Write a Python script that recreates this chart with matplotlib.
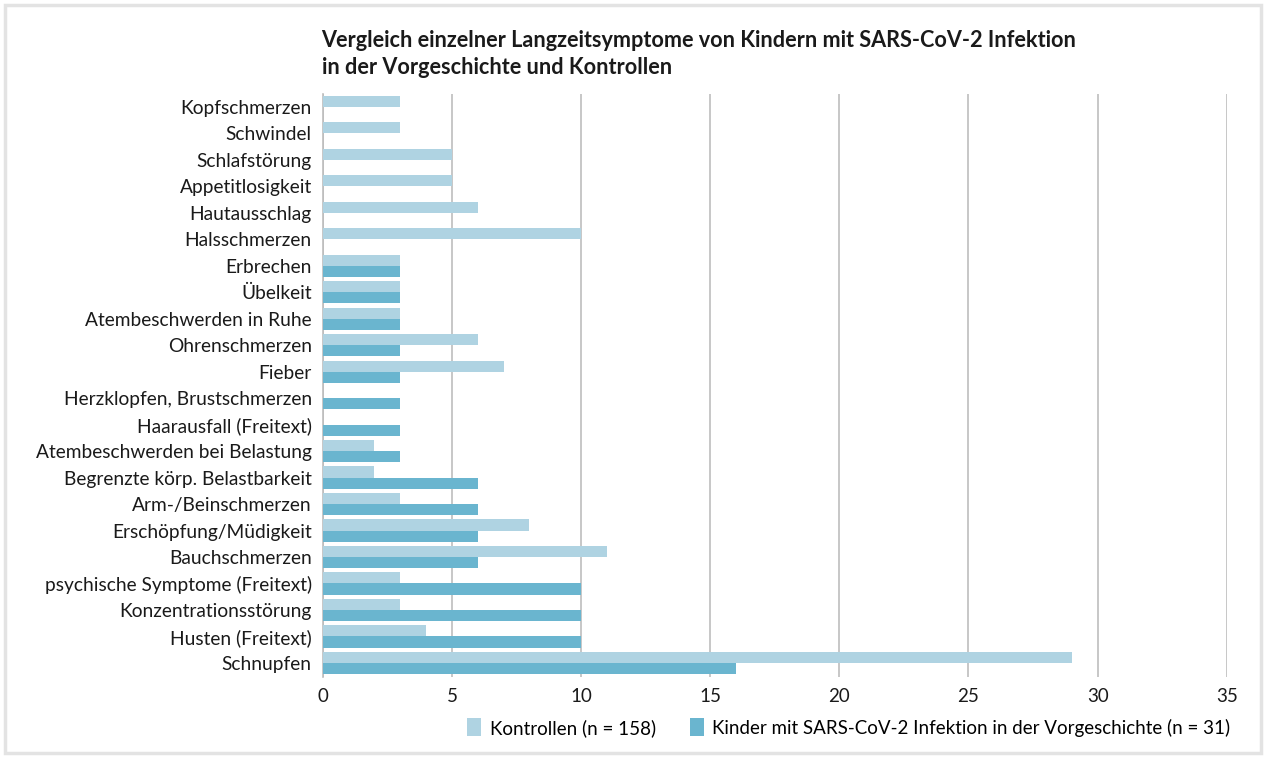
import numpy as np
import matplotlib.pyplot as plt
from matplotlib.patches import Rectangle

plt.rcParams['font.family'] = ['Lato', 'DejaVu Sans']

symptome = ['Kopfschmerzen', 'Schwindel', 'Schlafstörung', 'Appetitlosigkeit',
            'Hautausschlag', 'Halsschmerzen', 'Erbrechen', 'Übelkeit',
            'Atembeschwerden in Ruhe', 'Ohrenschmerzen', 'Fieber',
            'Herzklopfen, Brustschmerzen', 'Haarausfall (Freitext)',
            'Atembeschwerden bei Belastung', 'Begrenzte körp. Belastbarkeit',
            'Arm-/Beinschmerzen', 'Erschöpfung/Müdigkeit', 'Bauchschmerzen',
            'psychische Symptome (Freitext)', 'Konzentrationsstörung',
            'Husten (Freitext)', 'Schnupfen']
kontrollen = [3, 3, 5, 5, 6, 10, 3, 3, 3, 6, 7, 0, 0, 2, 2, 3, 8, 11, 3, 3, 4, 29]
kinder = [0, 0, 0, 0, 0, 0, 3, 3, 3, 3, 3, 3, 3, 3, 6, 6, 6, 6, 10, 10, 10, 16]

xticks = [0, 5, 10, 15, 20, 25, 30, 35]
titel = ('Vergleich einzelner Langzeitsymptome von Kindern mit SARS-CoV-2 Infektion\n'
         'in der Vorgeschichte und Kontrollen')

hell = '#afd3e2'
dunkel = '#6ab5cf'

fig = plt.figure(figsize=(12.66, 7.58), dpi=100)
ax = fig.add_axes([0.255, 0.107, 0.714, 0.769])

y = np.arange(len(symptome))
h = 0.42
ax.barh(y - h/2, kontrollen, height=h, color=hell, label='Kontrollen (n = 158)', zorder=3)
ax.barh(y + h/2, kinder, height=h, color=dunkel,
        label='Kinder mit SARS-CoV-2 Infektion in der Vorgeschichte (n = 31)', zorder=3)

ax.set_yticks(y)
ax.set_yticklabels(symptome, fontsize=13.8, color='#1a1a1a')
ax.set_ylim(len(symptome) - 1 + 0.53, -0.49)
ax.set_xlim(0, 35)
ax.set_xticks(xticks)
ax.tick_params(axis='x', labelsize=13.5, length=0, pad=8, colors='#1a1a1a')
ax.tick_params(axis='y', length=0, pad=8)
ax.grid(axis='x', color='#bdbdbd', linewidth=1.2, zorder=0)
for s in ['top', 'right', 'bottom']:
    ax.spines[s].set_visible(False)
ax.spines['left'].set_color('#bdbdbd')
ax.spines['left'].set_linewidth(1.2)

fig.text(0.254, 0.961, titel, fontsize=15.6, fontweight='bold', ha='left', va='top',
         color='#1a1a1a', linespacing=1.35)

leg = ax.legend(loc='center right', bbox_to_anchor=(0.985, 0.04), bbox_transform=fig.transFigure,
                ncol=2, frameon=False, fontsize=13.5, handlelength=0.75, handleheight=1.1,
                columnspacing=1.8, handletextpad=0.45)

fig.patches.append(Rectangle((0.004, 0.006), 0.992, 0.988, transform=fig.transFigure,
                             fill=False, edgecolor='#e3e3e3', linewidth=2.5))

plt.savefig('out.png', dpi=100)
